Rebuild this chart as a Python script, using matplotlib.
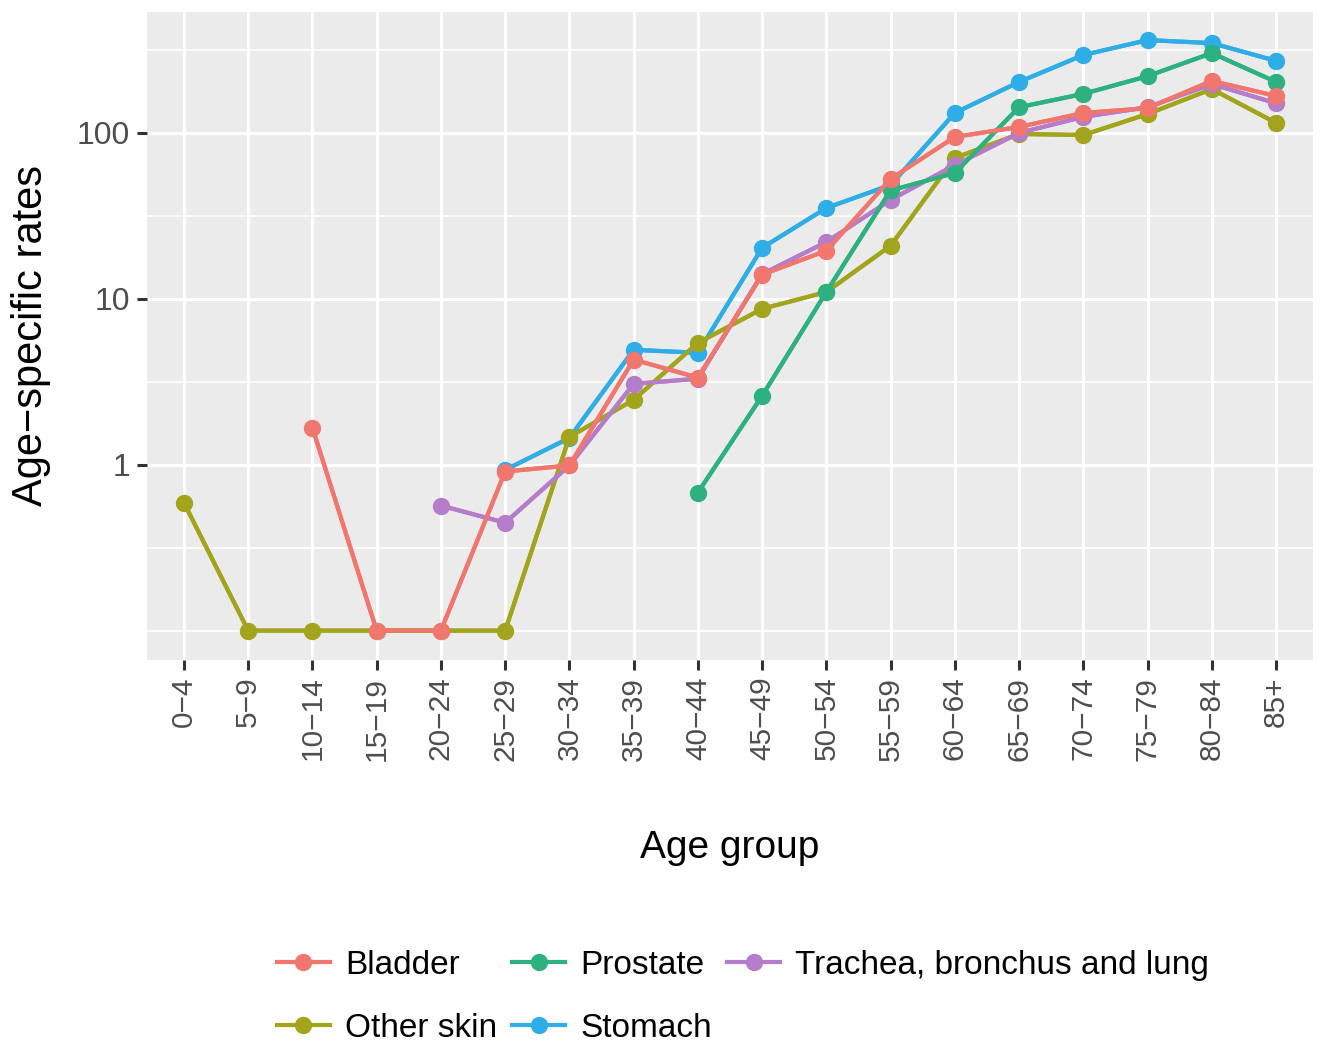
import numpy as np
import matplotlib
matplotlib.use("Agg")
import matplotlib.pyplot as plt
from matplotlib.ticker import FixedLocator, NullFormatter

plt.rcParams['font.family'] = ['Liberation Sans', 'DejaVu Sans']

age_groups = ["0−4", "5−9", "10−14", "15−19", "20−24", "25−29", "30−34", "35−39",
              "40−44", "45−49", "50−54", "55−59", "60−64", "65−69", "70−74",
              "75−79", "80−84", "85+"]

nan = np.nan
# zero rates sit on the 0.1 floor line in the original
bladder = [nan, nan, 1.67, 0.1, 0.1, 0.91, 0.99, 4.3, 3.35, 14.0, 19.5, 52.8,
           94.6, 108.7, 132, 141, 206, 167]
other_skin = [0.59, 0.1, 0.1, 0.1, 0.1, 0.1, 1.47, 2.46, 5.43, 8.7, 11.0, 20.9,
              70.7, 98.6, 97.2, 130, 184, 115]
prostate = [nan, nan, nan, nan, nan, nan, nan, nan, 0.68, 2.6, 11.0, 45.0,
            57.4, 143, 172, 220, 303, 203]
stomach = [nan, nan, nan, nan, nan, 0.93, 1.45, 4.93, 4.73, 20.3, 35.3, 48.6,
           132, 203, 295, 363, 348, 272]
trachea = [nan, nan, nan, nan, 0.567, 0.447, 0.99, 3.07, 3.3, 14.1, 22.0, 39.5,
           64.0, 100, 125, 143, 197, 151]

series = [
    ("Bladder", bladder, "#F1766E", 6),
    ("Other skin", other_skin, "#A2A41C", 3),
    ("Prostate", prostate, "#2DB17F", 5),
    ("Stomach", stomach, "#2EADE6", 2),
    ("Trachea, bronchus and lung", trachea, "#B57CC9", 4),
]

fig = plt.figure(figsize=(13.22, 10.47), dpi=100)
ax = fig.add_axes([147 / 1322, 1 - 660 / 1047, (1313 - 147) / 1322, (660 - 12) / 1047])
ax.set_facecolor("#EBEBEB")
for s in ax.spines.values():
    s.set_visible(False)

x = np.arange(len(age_groups))
handles = []
for name, vals, col, z in series:
    ax.plot(x, vals, color=col, lw=3.0, zorder=2)
for name, vals, col, z in series:
    h, = ax.plot(x, vals, color=col, lw=3.0, marker="o", ms=12.5, mew=0,
                 zorder=z, label=name)
    handles.append(h)

ax.set_yscale("log")
ax.set_ylim(0.0665, 536)
ax.set_xlim(-0.575, len(age_groups) - 1 + 0.575)

ax.yaxis.set_major_locator(FixedLocator([1, 10, 100]))
ax.yaxis.set_minor_locator(FixedLocator([0.1, 10 ** -0.5, 10 ** 0.5, 10 ** 1.5, 10 ** 2.5]))
ax.yaxis.set_minor_formatter(NullFormatter())
ax.set_yticklabels(["1", "10", "100"])
ax.set_xticks(x)
ax.set_xticklabels(age_groups, rotation=90)

ax.grid(which="major", color="white", lw=2.3, zorder=0)
ax.grid(which="minor", axis="y", color="white", lw=1.2, zorder=0)
ax.set_axisbelow(True)

ax.tick_params(axis="both", which="major", length=7, width=2.2, color="#333333",
               labelsize=21.5, labelcolor="#4D4D4D", pad=5)
ax.tick_params(axis="y", which="major", labelsize=23)
ax.tick_params(axis="y", which="minor", length=0)

ax.set_xlabel("Age group", fontsize=28, labelpad=50)
ax.set_ylabel("Age−specific rates", fontsize=30, labelpad=19)

fig.legend(handles=handles, loc="lower center", bbox_to_anchor=(0.562, -0.016),
           ncol=3, frameon=False, fontsize=24, handlelength=1.6,
           handletextpad=0.45, columnspacing=0.45, labelspacing=0.95,
           borderaxespad=0.2)

fig.savefig("out.png", dpi=100)
